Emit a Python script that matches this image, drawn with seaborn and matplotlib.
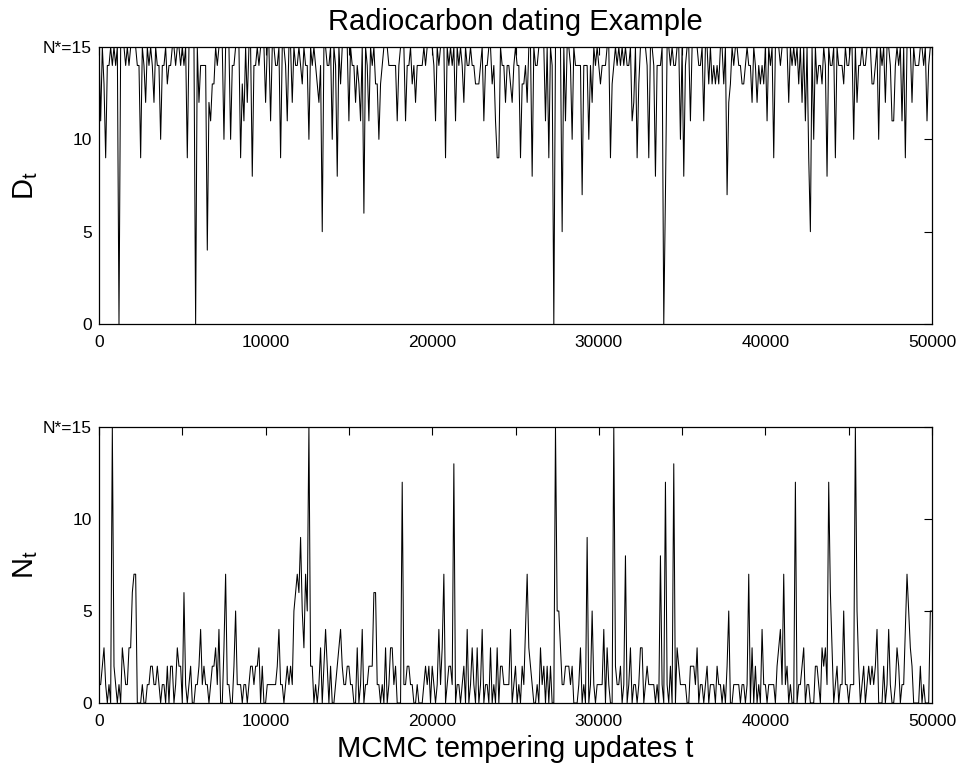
import numpy as np
import pandas as pd
import matplotlib
matplotlib.use("Agg")
import matplotlib.pyplot as plt
from matplotlib.ticker import MultipleLocator
import seaborn as sns

# ---------------- data (one value per 100 updates) -------------
D_values = [
    15,11,15,13,9,14,14,15,14,15,14,15,0,15,15,15,14,15,14,15,15,15,15,14,14,
    9,15,14,12,15,14,15,14,12,15,14,14,10,14,14,15,13,14,14,15,15,14,15,15,14,
    15,14,15,9,15,15,15,15,0,15,12,14,14,14,14,4,12,11,13,13,15,14,15,15,15,
    10,15,15,15,10,14,14,15,15,15,9,13,11,15,12,15,15,8,14,14,15,14,15,15,15,
    12,15,15,11,15,15,14,14,15,9,15,15,14,11,15,15,12,15,14,14,15,14,13,15,14,
    14,10,15,14,15,14,13,12,14,5,15,15,14,14,15,10,15,14,8,15,13,15,15,15,15,
    11,15,14,14,12,14,13,11,15,6,15,14,11,15,14,15,13,13,10,13,14,15,15,15,14,
    14,14,14,14,11,14,15,15,15,11,14,14,15,13,14,12,14,14,14,14,15,14,15,15,15,
    15,14,11,15,14,15,15,15,9,15,14,15,14,15,11,15,14,15,14,12,15,14,14,15,14,
    14,13,13,13,14,15,11,14,14,15,15,13,14,11,9,9,15,14,14,12,14,14,13,12,14,
    15,14,14,9,13,13,14,12,15,15,8,15,14,14,15,15,15,15,11,15,9,15,14,0,15,
    15,15,15,5,15,11,15,15,14,10,15,14,14,14,14,7,14,14,14,10,14,12,15,14,15,
    14,13,14,14,14,15,15,9,13,14,15,14,15,14,15,14,15,14,14,15,11,12,15,9,13,
    15,15,15,15,14,9,15,15,14,8,14,14,14,15,0,7,15,15,14,15,14,14,15,15,10,
    15,8,14,15,15,11,15,15,15,15,14,14,15,11,15,15,13,15,13,14,13,14,13,15,15,
    13,15,7,12,13,15,14,15,15,14,14,13,13,14,15,14,14,12,15,14,12,14,13,14,13,
    15,11,15,14,15,9,15,15,15,14,15,15,15,15,12,15,14,15,14,15,13,15,12,15,11,
    15,9,5,15,10,15,13,14,14,13,15,14,8,15,14,14,15,9,15,14,14,14,13,15,14,
    14,15,15,10,15,12,14,14,15,14,14,15,15,15,13,13,14,15,10,15,14,15,12,15,15,
    14,11,11,14,15,14,15,11,15,9,15,15,15,12,15,14,14,14,15,15,14,15,11,14,15,
    15,
]

N_values = [
    1,1,2,3,1,0,1,0,15,2,1,0,1,0,3,2,1,1,3,3,6,7,7,0,0,
    0,1,0,0,1,1,2,2,1,1,2,1,0,1,1,0,2,0,2,2,0,1,3,2,2,
    0,6,1,0,1,2,0,0,1,1,2,4,1,2,1,1,0,1,2,2,3,1,4,0,0,
    3,7,1,1,0,0,2,5,1,1,1,0,1,1,0,1,2,2,1,2,2,3,0,2,0,
    0,1,1,1,1,1,1,2,4,1,1,0,1,2,1,2,1,5,6,7,6,9,5,3,7,
    5,15,2,2,0,1,0,1,3,0,2,4,2,0,2,0,0,1,2,3,4,2,1,1,2,
    2,1,1,0,0,3,0,1,4,0,1,1,2,2,2,6,6,1,1,0,1,0,3,0,1,
    3,3,1,2,0,0,0,12,1,1,2,2,1,1,0,0,1,0,0,0,1,2,1,2,0,
    2,1,0,1,4,1,3,7,0,1,2,2,1,13,0,1,1,0,1,2,0,4,0,1,3,
    1,0,3,0,1,4,0,1,1,0,3,0,1,0,3,0,2,2,1,1,1,1,4,0,1,
    2,0,1,0,2,1,4,7,3,2,1,0,0,1,0,3,1,2,0,2,0,2,0,0,15,
    5,5,3,1,1,2,2,2,1,2,0,0,0,1,3,0,1,0,9,0,1,5,1,0,1,
    1,1,1,4,0,3,1,0,0,15,2,1,1,2,0,1,8,0,1,3,0,1,1,0,1,
    3,3,0,1,2,1,1,1,1,0,1,0,8,1,0,12,1,0,2,0,13,0,3,2,1,
    1,1,1,0,0,2,2,2,1,3,0,1,1,0,1,2,0,1,1,1,0,2,1,1,0,
    1,0,2,5,0,0,1,1,1,1,0,1,1,0,1,7,0,3,0,2,0,1,0,4,1,
    1,0,1,1,1,1,0,2,3,4,1,7,1,2,0,1,0,0,12,0,1,1,2,3,0,
    1,1,0,0,0,2,2,1,0,3,2,3,1,12,6,3,0,1,2,0,1,1,5,1,1,
    0,1,1,1,15,5,2,0,1,2,0,1,2,1,2,1,2,4,0,0,0,2,0,1,4,
    1,0,0,1,3,2,0,1,1,4,7,5,3,2,0,0,0,0,2,0,1,0,0,0,5,
    5,
]

update_step = 100
x_ticks = [0, 10000, 20000, 30000, 40000, 50000]
x_tick_labels = ["0", "10000", "20000", "30000", "40000", "50000"]
y_ticks = [0, 5, 10, 15]
y_tick_labels = ["0", "5", "10", "N*=15"]

title = "Radiocarbon dating Example"
x_label = "MCMC tempering updates t"
y_label_top = r"$\mathregular{D_t}$"
y_label_bottom = r"$\mathregular{N_t}$"

# ---------------- style ----------------
sns.set_theme(style="white")
plt.rcParams["font.family"] = ["Liberation Sans", "DejaVu Sans"]
plt.rcParams["mathtext.fontset"] = "custom"
plt.rcParams["mathtext.rm"] = "Liberation Sans"
plt.rcParams["mathtext.it"] = "Liberation Sans"

fig = plt.figure(figsize=(9.61, 7.68), dpi=100)
ax1 = fig.add_axes([99 / 961, 1 - 324 / 768, 833 / 961, 277 / 768])
ax2 = fig.add_axes([99 / 961, 1 - 703 / 768, 833 / 961, 276 / 768])

for ax, vals, ylab in [(ax1, D_values, y_label_top), (ax2, N_values, y_label_bottom)]:
    df = pd.DataFrame({"t": np.arange(len(vals)) * update_step, "v": vals})
    sns.lineplot(data=df, x="t", y="v", ax=ax, color="black", linewidth=0.75,
                 estimator=None)
    ax.set_xlim(0, 50000)
    ax.set_ylim(0, 15)
    ax.set_xticks(x_ticks)
    ax.set_xticklabels(x_tick_labels)
    ax.xaxis.set_minor_locator(MultipleLocator(5000))
    ax.set_yticks(y_ticks)
    ax.set_yticklabels(y_tick_labels)
    ax.tick_params(which="both", direction="in", top=True, right=True,
                   length=5.5, width=0.8, colors="black", labelsize=12.5)
    ax.tick_params(axis="x", pad=8)
    ax.tick_params(axis="y", pad=5)
    for s in ax.spines.values():
        s.set_color("black")
        s.set_linewidth(0.9)
    ax.set_xlabel("")
    ax.set_ylabel(ylab, fontsize=21, color="black")
    ax.yaxis.set_label_coords(-0.071, 0.5)

ax1.set_title(title, fontsize=21, pad=12, color="black")
ax2.set_xlabel(x_label, fontsize=21, color="black")
ax2.xaxis.set_label_coords(0.5, -0.115)

fig.savefig("out.png", dpi=100)
